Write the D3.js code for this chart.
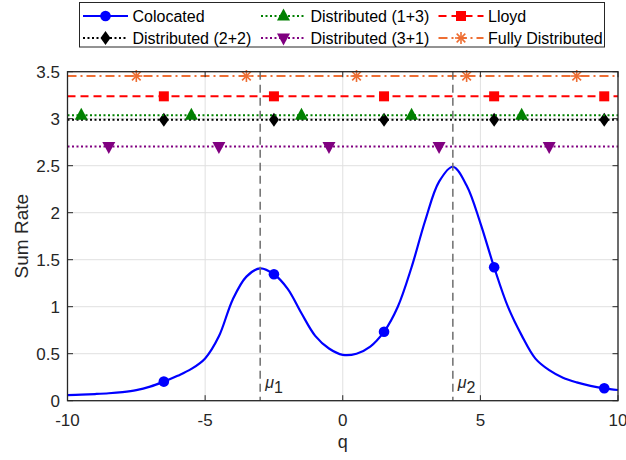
<!DOCTYPE html>
<html>
<head>
<meta charset="utf-8">
<script src="https://cdn.jsdelivr.net/npm/d3@7"></script>
<style>
  html, body { margin: 0; padding: 0; background: #fff; }
  svg { display: block; font-family: "Liberation Sans", Arial, Helvetica, sans-serif; }
</style>
</head>
<body>
<svg id="chart" width="626" height="460"></svg>
<script>
// Colocated sum rate sampled along q
const qGrid = [-10,-9.5,-9,-8.5,-8,-7.5,-7,-6.5,-6,-5.5,-5,-4.5,-4,-3.5,-3,-2.5,-2,-1.5,-1,-0.5,0,0.5,1,1.5,2,2.5,3,3.5,4,4.5,5,5.5,6,6.5,7,7.5,8,8.5,9,9.5,10];
const colocated = [0.060,0.065,0.071,0.079,0.092,0.113,0.150,0.203,0.265,0.338,0.450,0.685,1.075,1.320,1.408,1.345,1.190,0.930,0.690,0.555,0.488,0.500,0.575,0.734,1.000,1.420,1.920,2.330,2.489,2.290,1.890,1.419,1.000,0.695,0.448,0.325,0.245,0.195,0.158,0.132,0.114];
const colocatedMarkers = [-6.5,-2.5,1.5,5.5,9.5];

// Constant-rate schemes
const seriesNames = ["Distributed (2+2)","Distributed (1+3)","Distributed (3+1)","Lloyd","Fully Distributed"];
const seriesValues = [2.99, 3.036, 2.705, 3.238, 3.454];
const seriesMarkerQ = [
  [-6.5,-2.5,1.5,5.5,9.5],
  [-9.5,-5.5,-1.5,2.5,6.5],
  [-8.5,-4.5,-0.5,3.5,7.5],
  [-6.5,-2.5,1.5,5.5,9.5],
  [-7.5,-3.5,0.5,4.5,8.5]
];

// Reference means
const muValues = [-3, 4];
const muLabels = ["1", "2"];

const xTicks = [-10,-5,0,5,10];
const yTicks = [0,0.5,1,1.5,2,2.5,3,3.5];

const styles = {
  "Colocated":          {color:"#0000ff", dash:null,      marker:"circle"},
  "Distributed (2+2)":  {color:"#000000", dash:"2,2.5",   marker:"diamond"},
  "Distributed (1+3)":  {color:"#008000", dash:"2,2.5",   marker:"triUp"},
  "Distributed (3+1)":  {color:"#800080", dash:"2,2.5",   marker:"triDown"},
  "Lloyd":              {color:"#ff0000", dash:"8,5",     marker:"square"},
  "Fully Distributed":  {color:"#ee6e33", dash:"9,4,2,4", marker:"star"}
};

const svg = d3.select("#chart");
const m = {left:67.5, right:618, top:71.7, bottom:400.7};
const x = d3.scaleLinear().domain([-10,10]).range([m.left, m.right]);
const y = d3.scaleLinear().domain([0,3.5]).range([m.bottom, m.top]);
const axisColor = "#262626";

// grid
const grid = svg.append("g");
grid.selectAll(".gx").data(xTicks).enter().append("line")
  .attr("x1", d=>x(d)).attr("x2", d=>x(d)).attr("y1", m.top).attr("y2", m.bottom)
  .attr("stroke", "#e0e0e0").attr("stroke-width", 1);
grid.selectAll(".gy").data(yTicks).enter().append("line")
  .attr("x1", m.left).attr("x2", m.right).attr("y1", d=>y(d)).attr("y2", d=>y(d))
  .attr("stroke", "#e0e0e0").attr("stroke-width", 1);

function drawMarker(g, type, cx, cy, color) {
  if (type === "circle") {
    g.append("circle").attr("cx", cx).attr("cy", cy).attr("r", 5.3).attr("fill", color);
  } else if (type === "square") {
    g.append("rect").attr("x", cx-5).attr("y", cy-5).attr("width", 10).attr("height", 10).attr("fill", color);
  } else if (type === "diamond") {
    g.append("path").attr("d", `M${cx},${cy-7}L${cx+5},${cy}L${cx},${cy+7}L${cx-5},${cy}Z`).attr("fill", color);
  } else if (type === "triUp") {
    g.append("path").attr("d", `M${cx},${cy-7.5}L${cx+6.5},${cy+4.5}L${cx-6.5},${cy+4.5}Z`).attr("fill", color);
  } else if (type === "triDown") {
    g.append("path").attr("d", `M${cx},${cy+7.5}L${cx+6.5},${cy-4.5}L${cx-6.5},${cy-4.5}Z`).attr("fill", color);
  } else if (type === "star") {
    const r = 6, s = g.append("g").attr("stroke", color).attr("stroke-width", 1.6);
    s.append("line").attr("x1", cx-r).attr("x2", cx+r).attr("y1", cy).attr("y2", cy);
    s.append("line").attr("x1", cx).attr("x2", cx).attr("y1", cy-r).attr("y2", cy+r);
    const k = r*0.72;
    s.append("line").attr("x1", cx-k).attr("x2", cx+k).attr("y1", cy-k).attr("y2", cy+k);
    s.append("line").attr("x1", cx-k).attr("x2", cx+k).attr("y1", cy+k).attr("y2", cy-k);
  }
}

const plot = svg.append("g");

// Colocated curve
const colData = qGrid.map((q,i)=>({q, v: colocated[i]}));
plot.append("path").datum(colData)
  .attr("d", d3.line().x(d=>x(d.q)).y(d=>y(d.v)).curve(d3.curveCatmullRom.alpha(0.5)))
  .attr("fill", "none").attr("stroke", styles["Colocated"].color).attr("stroke-width", 2.2);
const colMarkG = plot.append("g");
colocatedMarkers.forEach(q => {
  const i = qGrid.indexOf(q);
  drawMarker(colMarkG, "circle", x(q), y(colocated[i]), styles["Colocated"].color);
});

// constant schemes
seriesNames.forEach((name, i) => {
  const st = styles[name];
  plot.append("line")
    .attr("x1", x(-10)).attr("x2", x(10)).attr("y1", y(seriesValues[i])).attr("y2", y(seriesValues[i]))
    .attr("stroke", st.color).attr("stroke-width", 2).attr("stroke-dasharray", st.dash);
  const g = plot.append("g");
  seriesMarkerQ[i].forEach(q => drawMarker(g, st.marker, x(q), y(seriesValues[i]), st.color));
});

// mean markers
muValues.forEach((mu, i) => {
  plot.append("line").attr("x1", x(mu)).attr("x2", x(mu)).attr("y1", m.top).attr("y2", m.bottom)
    .attr("stroke", "#6e6e6e").attr("stroke-width", 1.5).attr("stroke-dasharray", "8,5");
  const t = plot.append("text").attr("x", x(mu)+5).attr("y", 388)
    .attr("font-size", 16).attr("fill", axisColor);
  t.append("tspan").attr("font-style", "italic").text("\u03bc");
  t.append("tspan").attr("dy", 5).attr("font-size", 16).text(muLabels[i]);
});

// axes box and ticks
const ax = svg.append("g");
ax.append("rect").attr("x", m.left).attr("y", m.top).attr("width", m.right-m.left).attr("height", m.bottom-m.top)
  .attr("fill", "none").attr("stroke", axisColor).attr("stroke-width", 1.3);
const tl = 5.5;
xTicks.forEach(t => {
  ax.append("line").attr("x1", x(t)).attr("x2", x(t)).attr("y1", m.bottom).attr("y2", m.bottom-tl).attr("stroke", axisColor);
  ax.append("line").attr("x1", x(t)).attr("x2", x(t)).attr("y1", m.top).attr("y2", m.top+tl).attr("stroke", axisColor);
  ax.append("text").attr("x", x(t)).attr("y", 426).attr("text-anchor", "middle")
    .attr("font-size", 17).attr("fill", axisColor).text(t);
});
yTicks.forEach(t => {
  ax.append("line").attr("x1", m.left).attr("x2", m.left+tl).attr("y1", y(t)).attr("y2", y(t)).attr("stroke", axisColor);
  ax.append("line").attr("x1", m.right).attr("x2", m.right-tl).attr("y1", y(t)).attr("y2", y(t)).attr("stroke", axisColor);
  ax.append("text").attr("x", 60).attr("y", y(t)+6).attr("text-anchor", "end")
    .attr("font-size", 17).attr("fill", axisColor).text(t);
});
ax.append("text").attr("x", x(0)).attr("y", 448).attr("text-anchor", "middle")
  .attr("font-size", 18).attr("fill", axisColor).text("q");
ax.append("text").attr("transform", `translate(28,${(m.top+m.bottom)/2}) rotate(-90)`)
  .attr("text-anchor", "middle").attr("font-size", 19).attr("fill", axisColor).text("Sum Rate");

// legend
const legendRows = [
  ["Colocated", "Distributed (1+3)", "Lloyd"],
  ["Distributed (2+2)", "Distributed (3+1)", "Fully Distributed"]
];
const colX = [83, 261, 438.5];
const rowY = [16, 38];
const lg = svg.append("g");
lg.append("rect").attr("x", 79.5).attr("y", 2.5).attr("width", 525).attr("height", 44.5)
  .attr("fill", "#fff").attr("stroke", axisColor).attr("stroke-width", 1);
legendRows.forEach((row, r) => row.forEach((name, c) => {
  const st = styles[name];
  const x0 = colX[c], yy = rowY[r];
  lg.append("line").attr("x1", x0).attr("x2", x0+45).attr("y1", yy).attr("y2", yy)
    .attr("stroke", st.color).attr("stroke-width", 2).attr("stroke-dasharray", st.dash);
  drawMarker(lg, st.marker, x0+22.5, yy, st.color);
  lg.append("text").attr("x", x0+49.5).attr("y", yy+5.5).attr("font-size", 16)
    .attr("fill", "#000").text(name);
}));
</script>
</body>
</html>
